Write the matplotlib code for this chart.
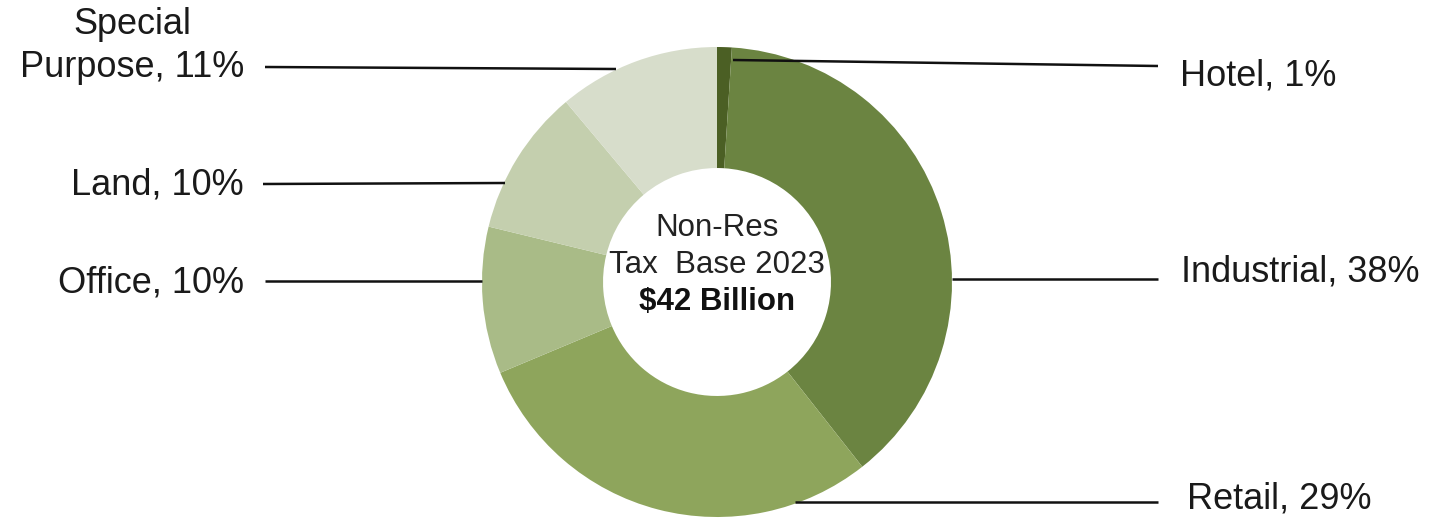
import matplotlib
matplotlib.use("Agg")
import matplotlib.pyplot as plt

# Non-residential tax base composition, 2023
categories = ["Hotel", "Industrial", "Retail", "Office", "Land", "Special\nPurpose"]
shares = [1, 38, 29, 10, 10, 11]
colors = ["#4b5f24", "#6b8441", "#8ea55c", "#a9bb87", "#c4cfae", "#d7ddcb"]

center_lines = ["Non-Res", "Tax  Base 2023", "$42 Billion"]

W, H = 1432, 519
plt.rcParams["font.family"] = ["Liberation Sans", "DejaVu Sans"]

fig = plt.figure(figsize=(W / 100, H / 100), dpi=100)
ax = fig.add_axes([0, 0, 1, 1])

cx, cy, R = 717, H - 282, 235
ax.pie(shares, colors=colors, startangle=90, counterclock=False,
       center=(cx, cy), radius=R,
       wedgeprops=dict(width=0.515 * R, linewidth=0))

ax.set_xlim(0, W)
ax.set_ylim(0, H)
ax.set_aspect("equal")
ax.axis("off")

# centre caption
ax.text(cx, H - 228, center_lines[0], ha="center", va="center", fontsize=22.5, color="#222222")
ax.text(cx, H - 265, center_lines[1], ha="center", va="center", fontsize=22.5, color="#222222")
ax.text(cx, H - 302, center_lines[2], ha="center", va="center", fontsize=22.5,
        fontweight="bold", color="#111111")

# leader lines (pixel layout) and label placement
leaders = {
    "Hotel": ((733, 60), (1158, 66)),
    "Industrial": ((952, 279), (1158, 279)),
    "Retail": ((795, 502), (1158, 502)),
    "Office": ((265, 281), (482, 281)),
    "Land": ((263, 184), (505, 183)),
    "Special\nPurpose": ((265, 67), (616, 69)),
}
label_pos = {
    "Hotel": (1180, 76, "left"),
    "Industrial": (1181, 272, "left"),
    "Retail": (1187, 499, "left"),
    "Office": (244, 283, "right"),
    "Land": (244, 185, "right"),
    "Special\nPurpose": (244, 46, "right"),
}

for name, val in zip(categories, shares):
    (x0, y0), (x1, y1) = leaders[name]
    ax.plot([x0, x1], [H - y0, H - y1], color="#111111", lw=1.8, solid_capstyle="butt")
    lx, ly, ha = label_pos[name]
    ax.text(lx, H - ly, f"{name}, {val}%", ha=ha, va="center", fontsize=26,
            color="#1a1a1a", multialignment="center", linespacing=1.28)

fig.savefig("out.png", dpi=100, facecolor="white")
